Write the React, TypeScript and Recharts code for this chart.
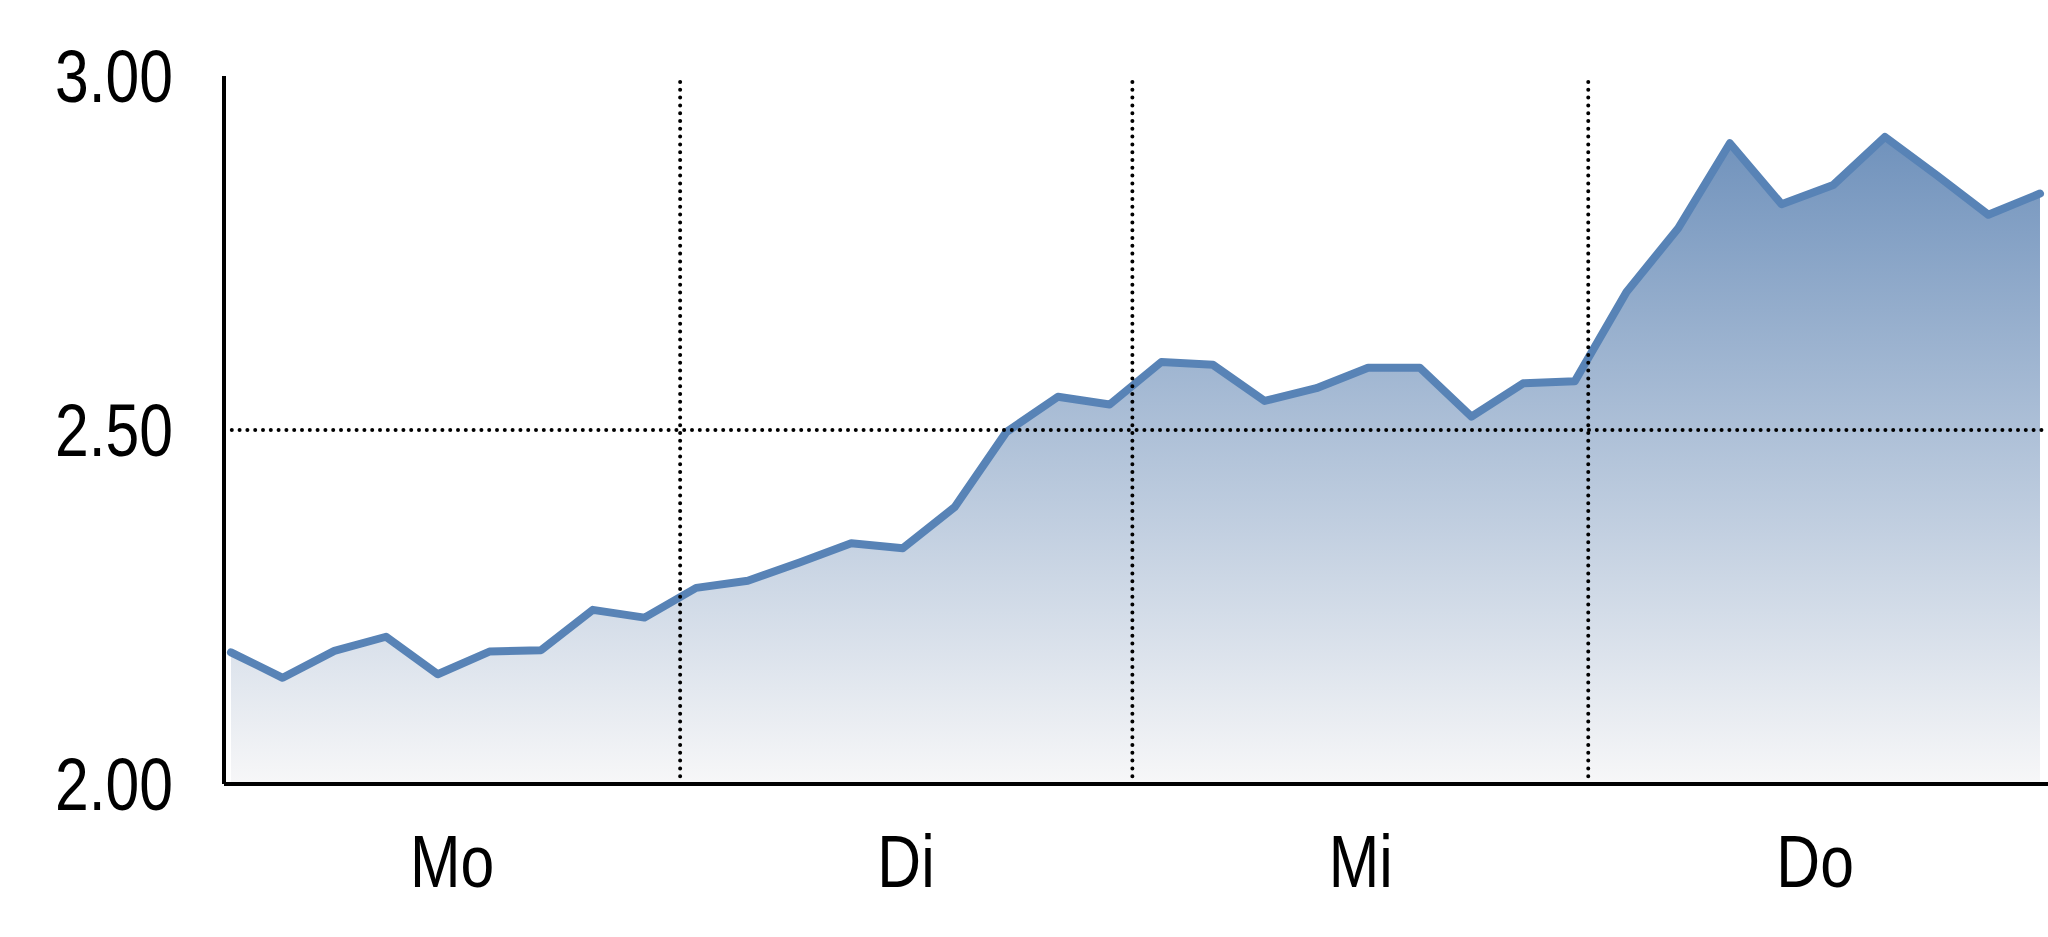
import React from 'react';
import {
  AreaChart,
  Area,
  XAxis,
  YAxis,
  ReferenceLine
} from 'recharts';

// price samples, 9 per trading day
const prices = [
  2.186, 2.150, 2.188, 2.208, 2.155, 2.187, 2.189, 2.246, 2.235,
  2.277, 2.287, 2.313, 2.340, 2.333, 2.391, 2.497, 2.547, 2.536,
  2.596, 2.592, 2.541, 2.559, 2.588, 2.588, 2.519, 2.566, 2.569,
  2.695, 2.785, 2.905, 2.819, 2.846, 2.914, 2.860, 2.804, 2.834
];

const dayLabels = ['Mo', 'Di', 'Mi', 'Do'];
// where each day label sits and where the days split (in sample index units)
const dayCenters = [4.28, 13.06, 21.86, 30.65];
const dayBounds = [8.69, 17.44, 26.26];

const yTicks = [2, 2.5, 3];

const data = prices.map((v, i) => ({ i, v }));

const font = "'Liberation Sans', Arial, sans-serif";

// no narrow font installed, so squeeze the text horizontally
const NarrowTick = (props: any) => {
  const { x, y, payload, textAnchor, dy, fmt } = props;
  return (
    <text
      x={x}
      y={y}
      dy={dy}
      textAnchor={textAnchor}
      fill="#000"
      fontSize={74}
      fontFamily={font}
      transform={`translate(${x},0) scale(0.82,1) translate(${-x},0)`}
    >
      {fmt(payload.value)}
    </text>
  );
};

export default function App() {
  return (
    <div style={{ position: 'absolute', left: 0, top: 0, width: 2048, height: 937, background: '#fff' }}>
      <AreaChart
        width={2048}
        height={937}
        data={data}
        margin={{ top: 76, right: 0, left: 0, bottom: 0 }}
      >
        <defs>
          <linearGradient id="fillGrad" x1="0" y1="0" x2="0" y2="1">
            <stop offset="0%" stopColor="#7092bc" />
            <stop offset="100%" stopColor="#f7f7f8" />
          </linearGradient>
        </defs>
        <XAxis
          type="number"
          dataKey="i"
          domain={[-0.135, 35.155]}
          ticks={dayCenters}
          height={153}
          tickLine={false}
          tickMargin={44}
          axisLine={{ stroke: '#000', strokeWidth: 4 }}
          tick={
            <NarrowTick
              dy="0.71em"
              fmt={(t: number) => dayLabels[dayCenters.indexOf(t)]}
            />
          }
          allowDataOverflow
        />
        <YAxis
          type="number"
          domain={[2, 3]}
          ticks={yTicks}
          width={224}
          tickLine={false}
          tickMargin={45}
          axisLine={{ stroke: '#000', strokeWidth: 4 }}
          tick={<NarrowTick dy="0.355em" fmt={(v: number) => v.toFixed(2)} />}
        />
        <Area
          type="linear"
          dataKey="v"
          stroke="#5883b6"
          strokeWidth={8}
          strokeLinejoin="round"
          strokeLinecap="round"
          fill="url(#fillGrad)"
          fillOpacity={1}
          baseValue={2}
          dot={false}
          activeDot={false}
          isAnimationActive={false}
        />
        <ReferenceLine
          y={2.5}
          stroke="#000"
          strokeWidth={4}
          strokeDasharray="0 7.8"
          strokeLinecap="round"
        />
        {dayBounds.map((b) => (
          <ReferenceLine
            key={b}
            x={b}
            stroke="#000"
            strokeWidth={4}
            strokeDasharray="0 7.8"
            strokeLinecap="round"
          />
        ))}
      </AreaChart>
    </div>
  );
}
